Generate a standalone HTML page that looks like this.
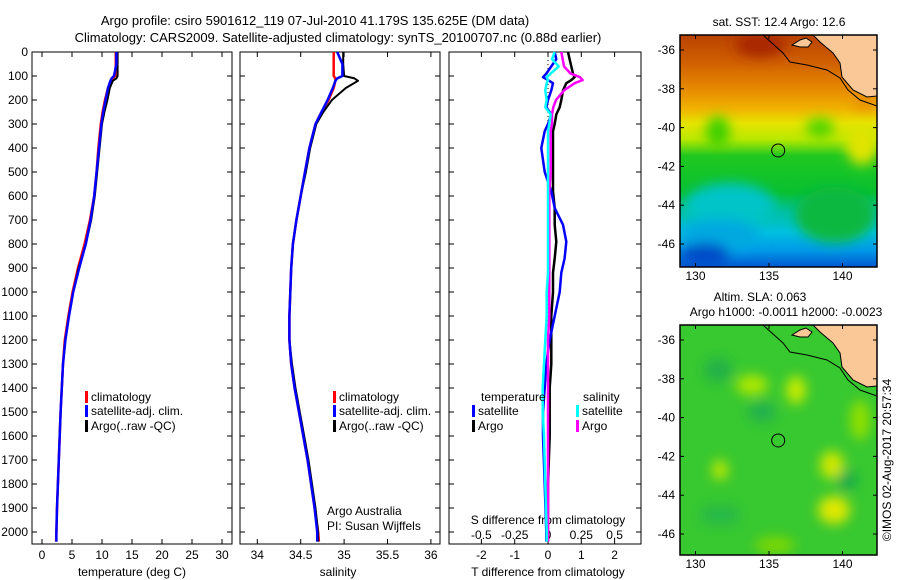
<!DOCTYPE html>
<html><head><meta charset="utf-8"><style>
html,body{margin:0;padding:0;background:#fff;}
svg{display:block;font-family:"Liberation Sans",sans-serif;}
text{font-size:12px;fill:#000;}
</style></head><body>
<svg id="chart" width="900" height="580" viewBox="0 0 900 580" xmlns="http://www.w3.org/2000/svg">
<defs>
<linearGradient id="sstg" x1="0" y1="0" x2="0" y2="1">
<stop offset="0" stop-color="#b84200"/><stop offset="0.12" stop-color="#d06000"/><stop offset="0.24" stop-color="#e88c00"/>
<stop offset="0.32" stop-color="#f0b400"/><stop offset="0.38" stop-color="#e6e400"/><stop offset="0.45" stop-color="#b8e800"/>
<stop offset="0.52" stop-color="#20c820"/><stop offset="0.68" stop-color="#08c030"/><stop offset="0.76" stop-color="#00c0a0"/>
<stop offset="0.85" stop-color="#00c0e0"/><stop offset="0.93" stop-color="#0098e8"/><stop offset="1" stop-color="#0058d0"/>
</linearGradient>
<filter id="blur" x="-50%" y="-50%" width="200%" height="200%"><feGaussianBlur stdDeviation="6"/></filter>
<clipPath id="clip1"><rect x="680" y="35" width="197" height="232"/></clipPath>
<clipPath id="clip2"><rect x="680" y="325" width="197" height="230"/></clipPath>
</defs>
<g id="titles">
<text x="315" y="25" text-anchor="middle" style="font-size:13px">Argo profile: csiro 5901612_119 07-Jul-2010 41.179S 135.625E (DM data)</text>
<text x="338" y="42" text-anchor="middle" style="font-size:13px">Climatology: CARS2009. Satellite-adjusted climatology: synTS_20100707.nc (0.88d earlier)</text>
</g>
<g id="plots"></g>
<g id="maps">
<g clip-path="url(#clip1)">
<rect x="680" y="35" width="197" height="232" fill="url(#sstg)"/>
<g filter="url(#blur)">
<ellipse cx="718" cy="132" rx="12" ry="16" fill="#40d000"/>
<ellipse cx="820" cy="128" rx="14" ry="10" fill="#50d400"/>
<ellipse cx="730" cy="205" rx="45" ry="22" fill="#00c4c8"/>
<ellipse cx="720" cy="235" rx="40" ry="16" fill="#00a8e0"/>
<ellipse cx="835" cy="215" rx="40" ry="28" fill="#10b840"/>
<ellipse cx="862" cy="145" rx="16" ry="20" fill="#e0e400"/>
<ellipse cx="865" cy="100" rx="12" ry="10" fill="#e89000"/>
<ellipse cx="760" cy="45" rx="25" ry="12" fill="#a82800"/>
<ellipse cx="705" cy="255" rx="25" ry="12" fill="#0048c8"/>
</g>
</g>
<g clip-path="url(#clip2)">
<rect x="680" y="325" width="197" height="230" fill="#38c830"/>
<g filter="url(#blur)">
<ellipse cx="752" cy="385" rx="16" ry="10" fill="#b0e800"/>
<ellipse cx="796" cy="390" rx="10" ry="14" fill="#c8ec00"/>
<ellipse cx="720" cy="470" rx="8" ry="10" fill="#c0e800"/>
<ellipse cx="832" cy="465" rx="12" ry="14" fill="#d0e800"/>
<ellipse cx="834" cy="510" rx="16" ry="14" fill="#e0e800"/>
<ellipse cx="860" cy="420" rx="10" ry="20" fill="#90e000"/>
<ellipse cx="762" cy="412" rx="14" ry="10" fill="#20b050"/>
<ellipse cx="718" cy="370" rx="14" ry="12" fill="#20b048"/>
<ellipse cx="847" cy="480" rx="9" ry="10" fill="#10a850"/>
<ellipse cx="720" cy="515" rx="20" ry="10" fill="#28b848"/>
<ellipse cx="775" cy="545" rx="20" ry="8" fill="#80d800"/>
</g>
</g>
</g>
</svg>
<script>
var depth=[0,50,100,110,120,150,200,250,300,400,500,600,700,800,900,1000,1100,1200,1300,1400,1500,1600,1700,1800,1900,2000,2040];
var tempClim=[12.3,12.3,12.2,11.8,11.5,11.0,10.5,10.1,9.8,9.4,9.1,8.7,8.0,7.1,6.0,5.1,4.4,3.8,3.5,3.3,3.1,2.95,2.8,2.65,2.5,2.4,2.35];
var tempSat=[12.4,12.4,12.0,11.6,11.4,11.0,10.6,10.2,9.9,9.5,9.1,8.7,8.1,7.3,6.2,5.2,4.5,3.9,3.5,3.3,3.1,2.95,2.8,2.65,2.5,2.4,2.4];
var tempArgo=[12.6,12.6,12.6,12.4,11.8,11.3,10.9,10.4,10.0,9.6,9.2,8.8,8.2,7.3,6.1,5.2,4.5,3.9,3.5,3.3,3.1,2.95,2.8,2.65,2.5,2.4,2.4];
var salClim=[34.88,34.88,34.88,34.9,34.9,34.88,34.82,34.74,34.67,34.6,34.55,34.5,34.45,34.41,34.39,34.38,34.37,34.37,34.39,34.43,34.48,34.53,34.58,34.62,34.66,34.7,34.71];
var salSat=[34.92,34.98,34.98,34.92,34.9,34.87,34.81,34.74,34.67,34.6,34.55,34.5,34.45,34.41,34.39,34.38,34.37,34.37,34.39,34.43,34.48,34.53,34.58,34.62,34.66,34.69,34.69];
var salArgo=[34.99,34.99,35.0,35.12,35.16,35.02,34.86,34.76,34.68,34.61,34.56,34.5,34.45,34.41,34.39,34.38,34.37,34.37,34.4,34.44,34.49,34.54,34.59,34.63,34.67,34.7,34.7];
var dDepth=[0,30,60,90,105,117,130,160,200,230,260,300,330,400,500,580,650,720,790,860,920,1000,1100,1200,1300,1400,1500,1600,1800,2000,2040];
var dTSat=[0.2,0.25,0.1,-0.05,-0.15,0.0,0.15,0.1,0.0,-0.05,0.1,0.0,-0.1,-0.2,-0.1,0.1,0.2,0.45,0.55,0.5,0.4,0.35,0.2,0.05,-0.05,-0.1,-0.15,-0.15,-0.1,-0.05,-0.05];
var dTArgo=[0.6,0.65,0.7,0.75,0.8,0.7,0.55,0.45,0.4,0.35,0.25,0.2,0.15,0.15,0.15,0.15,0.2,0.2,0.25,0.2,0.15,0.15,0.1,0.1,0.1,0.05,0.05,0.05,0.0,0.0,0.0];
var dSArgo=[0.1,0.11,0.12,0.17,0.24,0.26,0.2,0.12,0.06,0.04,0.03,0.03,0.02,0.02,0.02,0.01,0.01,0.01,0.01,0.01,0.01,0.01,0.01,0.0,0.0,0.0,0.0,0.0,0.0,0.0,0.0];
var dSSat=[0.05,0.03,0.08,0.02,-0.01,0.0,-0.01,-0.02,-0.01,-0.02,0.02,0.01,0.0,0.0,0.0,0.0,0.0,0.0,0.0,0.0,0.0,-0.01,-0.01,-0.02,-0.03,-0.04,-0.04,-0.03,-0.02,-0.01,-0.01];
var depthTicks=[0,100,200,300,400,500,600,700,800,900,1000,1100,1200,1300,1400,1500,1600,1700,1800,1900,2000];
var tempTicks=[0,5,10,15,20,25,30];
var salTicks=[34,34.5,35,35.5,36];
var dTTicks=[-2,-1,0,1,2];
var dSTicks=["-0.5","-0.25","0","0.25","0.5"];
var lonTicks=[130,135,140];
var latTicks=[-36,-38,-40,-42,-44,-46];

var NS='http://www.w3.org/2000/svg';
var svg=document.getElementById('chart');
var plots=document.getElementById('plots');
function mk(tag,attrs,parent){var e=document.createElementNS(NS,tag);for(var k in attrs)e.setAttribute(k,attrs[k]);(parent||plots).appendChild(e);return e;}
var yTop=52,yBot=544;
function yD(d){return yTop+d*(yBot-yTop)/2050;}
function xT(t){return 42+t*6;}
function xS(s){return 257.3+(s-34)*86.8;}
function xDT(t){return 548+t*33.3;}
function xDS(s){return 548+s*133.2;}
function lonX(l){return 769+(l-135)*14.7;}
function latY(l,top){return top+15+(-36-l)*19.4;}

function frame(x0,x1,name){
  var r=mk('rect',{x:x0,y:yTop,width:x1-x0,height:yBot-yTop,fill:'none',stroke:'#000','stroke-width':1});
  
  
}
function line(xs,ys,fx,color,name,w){
  var p='';for(var i=0;i<xs.length;i++){p+=(i?'L':'M')+fx(xs[i]).toFixed(1)+','+yD(ys[i]).toFixed(1);}
  var e=mk('path',{d:p,fill:'none',stroke:color,'stroke-width':w||2,'stroke-linejoin':'round'});
  
  
}
function txt(x,y,s,anchor,name,size){
  var e=mk('text',{x:x,y:y,'text-anchor':anchor||'start'});if(size)e.style.fontSize=size+'px';e.textContent=s;
  
  
  return e;
}
var panels=[[32,232],[240,440],[449,641]];
panels.forEach(function(p,i){frame(p[0],p[1],'panel-frame-'+(i+1));
  depthTicks.forEach(function(d){mk('line',{x1:p[0],x2:p[0]+5,y1:yD(d),y2:yD(d),stroke:'#000'});mk('line',{x1:p[1],x2:p[1]-5,y1:yD(d),y2:yD(d),stroke:'#000'});});
});
depthTicks.forEach(function(d){txt(28,yD(d)+4,String(d),'end','depth-tick-label');});
tempTicks.forEach(function(t){mk('line',{x1:xT(t),x2:xT(t),y1:yBot,y2:yBot-5,stroke:'#000'});mk('line',{x1:xT(t),x2:xT(t),y1:yTop,y2:yTop+5,stroke:'#000'});txt(xT(t),559,String(t),'middle','temp-tick-label');});
salTicks.forEach(function(t){mk('line',{x1:xS(t),x2:xS(t),y1:yBot,y2:yBot-5,stroke:'#000'});mk('line',{x1:xS(t),x2:xS(t),y1:yTop,y2:yTop+5,stroke:'#000'});txt(xS(t),559,String(t),'middle','salinity-tick-label');});
dTTicks.forEach(function(t){mk('line',{x1:xDT(t),x2:xDT(t),y1:yBot,y2:yBot-5,stroke:'#000'});mk('line',{x1:xDT(t),x2:xDT(t),y1:yTop,y2:yTop+5,stroke:'#000'});txt(xDT(t),559,String(t),'middle','tdiff-tick-label');});
dSTicks.forEach(function(t){txt(xDS(parseFloat(t)),539,t,'middle','sdiff-tick-label');});
txt(132,576,'temperature (deg C)','middle','x-axis-title-temperature');
txt(338,576,'salinity','middle','x-axis-title-salinity');
txt(548,576,'T difference from climatology','middle','x-axis-title-tdiff');
txt(548,524,'S difference from climatology','middle','x-axis-title-sdiff');
txt(327,515,'Argo Australia','start','credit-line-1');
txt(327,530,'PI: Susan Wijffels','start','credit-line-2');
var z=mk('line',{x1:xDT(0),x2:xDT(0),y1:yTop,y2:yBot,stroke:'#000','stroke-dasharray':'1,3'});


line(tempClim,depth,xT,'#ff0000','temp-climatology-line',2.5);
line(tempArgo,depth,xT,'#000000','temp-argo-line');
line(tempSat,depth,xT,'#0000ff','temp-satellite-line',2.5);
line(salClim,depth,xS,'#ff0000','salinity-climatology-line',2.5);
line(salArgo,depth,xS,'#000000','salinity-argo-line');
line(salSat,depth,xS,'#0000ff','salinity-satellite-line',2.5);
line(dTArgo,dDepth,xDT,'#000000','tdiff-argo-line',2.5);
line(dTSat,dDepth,xDT,'#0000ff','tdiff-satellite-line',2.5);
line(dSArgo,dDepth,xDS,'#ff00ff','sdiff-argo-line',2.5);
line(dSSat,dDepth,xDS,'#00ffff','sdiff-satellite-line',2.5);
function legend(x,y,color,label,name){
  var r=mk('rect',{x:x,y:y-10,width:3,height:12,fill:color});
  
  
  txt(x+6,y,label,'start',name);
}
[[85,'clim'],[333,'sal']].forEach(function(l){
  legend(l[0],401,'#ff0000','climatology',l[1]+'-legend-climatology');
  legend(l[0],415,'#0000ff','satellite-adj. clim.',l[1]+'-legend-satellite');
  legend(l[0],430,'#000000','Argo(..raw -QC)',l[1]+'-legend-argo');
});
txt(481,401,'temperature','start','diff-legend-temperature-header');
txt(583,401,'salinity','start','diff-legend-salinity-header');
legend(472,415,'#0000ff','satellite','diff-legend-t-satellite');
legend(472,430,'#000000','Argo','diff-legend-t-argo');
legend(576,415,'#00ffff','satellite','diff-legend-s-satellite');
legend(576,430,'#ff00ff','Argo','diff-legend-s-argo');

var mapsG=document.getElementById('maps');
function mapOverlay(top,h,idx){
  var off=top-35;
  var g=document.createElementNS(NS,'g');g.setAttribute('clip-path','url(#clip'+idx+')');mapsG.appendChild(g);
  var land=mk('path',{d:'M813,'+(35+off)+' L820,'+(42+off)+' L833,'+(53+off)+' L840,'+(63+off)+' L842,'+(77+off)+' L853,'+(90+off)+' L867,'+(97+off)+' L877,'+(96+off)+' L877,'+(35+off)+' Z',fill:'#fac896',stroke:'#000','stroke-width':1},g);
  
  
  var isl=mk('path',{d:'M792,'+(45+off)+' L800,'+(40+off)+' L806,'+(38+off)+' L812,'+(42+off)+' L808,'+(47+off)+' L800,'+(47+off)+' Z',fill:'#fac896',stroke:'#000','stroke-width':1},g);
  
  
  var cl=mk('path',{d:'M763,'+(35+off)+' L783,'+(53+off)+' L790,'+(62+off)+' L807,'+(65+off)+' L827,'+(70+off)+' L840,'+(78+off)+' L848,'+(90+off)+' L860,'+(100+off)+' L877,'+(106+off),fill:'none',stroke:'#000','stroke-width':1},g);
  
  
  var fr=mk('rect',{x:680,y:top,width:197,height:h,fill:'none',stroke:'#000','stroke-width':1.5},mapsG);
  
  
  var c=mk('circle',{cx:lonX(135.625),cy:latY(-41.179,top),r:6.5,fill:'none',stroke:'#000','stroke-width':1},mapsG);
  
  
  latTicks.forEach(function(l){var y=latY(l,top);mk('line',{x1:680,x2:684,y1:y,y2:y,stroke:'#000'},mapsG);mk('line',{x1:877,x2:873,y1:y,y2:y,stroke:'#000'},mapsG);
    var t=txt(675,y+4,String(l),'end','lat-tick-label');mapsG.appendChild(t);});
  lonTicks.forEach(function(l){var x=lonX(l);mk('line',{x1:x,x2:x,y1:top,y2:top+4,stroke:'#000'},mapsG);mk('line',{x1:x,x2:x,y1:top+h,y2:top+h-4,stroke:'#000'},mapsG);
    var t=txt(x,top+h+13,String(l),'middle','lon-tick-label');mapsG.appendChild(t);});
}
mapOverlay(35,232,1);
mapOverlay(325,230,2);
var t1=txt(779,26,'sat. SST: 12.4  Argo: 12.6','middle','sst-map-title');mapsG.appendChild(t1);
var t2=txt(760,301,'Altim. SLA: 0.063','middle','sla-map-title');mapsG.appendChild(t2);
var t3=txt(786,316,'Argo h1000: -0.0011 h2000: -0.0023','middle','sla-map-subtitle');mapsG.appendChild(t3);
var t4=txt(891,460,'\u00a9IMOS 02-Aug-2017 20:57:34','middle','timestamp-credit');t4.setAttribute('transform','rotate(-90 891 460)');mapsG.appendChild(t4);
</script>
</body></html>
